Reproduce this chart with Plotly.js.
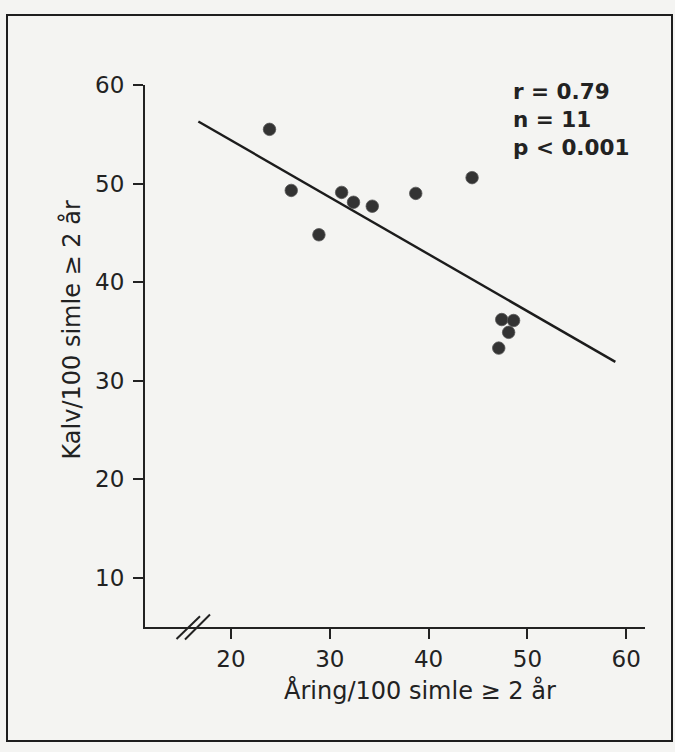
<!DOCTYPE html>
<html>
<head>
<meta charset="utf-8">
<script src="https://cdn.plot.ly/plotly-3.0.1.min.js"></script>
<style>html,body{margin:0;padding:0;background:#f4f4f2;}</style>
</head>
<body>
<div id="chart" style="width:675px;height:752px;"></div>
<script>
// Data
const aringX = [23.9, 26.1, 28.9, 31.2, 32.4, 34.3, 38.7, 44.4, 47.4, 48.6, 48.1, 47.1];
const kalvY  = [55.5, 49.3, 44.8, 49.1, 48.1, 47.7, 49.0, 50.6, 36.2, 36.1, 34.9, 33.3];
// Regression line end points
const fitX = [16.7, 58.9];
const fitY = [56.3, 31.9];
const xTicks = [20, 30, 40, 50, 60];
const yTicks = [10, 20, 30, 40, 50, 60];
const statsText = ["r = 0.79", "n = 11", "p < 0.001"];
const xTitle = "Åring/100 simle ≥ 2 år";
const yTitle = "Kalv/100 simle ≥ 2 år";

const ink = '#222222';
const fontFam = 'DejaVu Sans, Liberation Sans, sans-serif';

const traces = [
  {x: fitX, y: fitY, mode: 'lines', type: 'scatter',
   line: {color: '#1c1c1c', width: 2.4}, hoverinfo: 'skip', cliponaxis: false},
  {x: aringX, y: kalvY, mode: 'markers', type: 'scatter',
   marker: {size: 12.5, color: '#333333', line: {color: '#555555', width: 0.8}}}
];

const layout = {
  width: 675, height: 752,
  margin: {l: 145, r: 30, t: 85, b: 125},
  paper_bgcolor: '#f4f4f2', plot_bgcolor: '#f4f4f2',
  showlegend: false,
  font: {family: fontFam, color: ink, size: 23},
  xaxis: {
    range: [11.3, 61.9], tickvals: xTicks, ticktext: xTicks.map(String),
    showgrid: false, zeroline: false, showline: true, linecolor: ink, linewidth: 2,
    ticks: 'outside', ticklen: 10, tickwidth: 2, tickcolor: ink,
    tickfont: {family: fontFam, size: 23, color: ink}
  },
  yaxis: {
    range: [5, 60], tickvals: yTicks, ticktext: yTicks.map(String),
    showgrid: false, zeroline: false, showline: true, linecolor: ink, linewidth: 2,
    ticks: 'outside', ticklen: 10, tickwidth: 2, tickcolor: ink, ticklabelstandoff: 4,
    tickfont: {family: fontFam, size: 23, color: ink}
  },
  annotations: [
    {text: statsText.join('<br>'), xref: 'paper', yref: 'paper', x: 0.732, y: 1.014,
     xanchor: 'left', yanchor: 'top', align: 'left', showarrow: false,
     font: {family: fontFam, size: 21.5, color: ink, weight: 'bold'}},
    {text: xTitle, xref: 'paper', yref: 'paper', x: 0.55, y: -0.118,
     xanchor: 'center', yanchor: 'middle', showarrow: false,
     font: {family: fontFam, size: 24, color: ink}},
    {text: yTitle, xref: 'paper', yref: 'paper', x: -0.147, y: 0.548,
     xanchor: 'center', yanchor: 'middle', textangle: -90, showarrow: false,
     font: {family: fontFam, size: 24, color: ink}}
  ],
  shapes: [
    {type: 'rect', xref: 'paper', yref: 'paper', x0: -0.276, x1: 1.054, y0: -0.2103, y1: 1.129,
     line: {color: '#1e1e1e', width: 2}, fillcolor: 'rgba(0,0,0,0)', layer: 'below'},
    {type: 'line', xref: 'paper', yref: 'paper', x0: 0.063, y0: -0.022, x1: 0.110, y1: 0.020,
     line: {color: ink, width: 2}},
    {type: 'line', xref: 'paper', yref: 'paper', x0: 0.080, y0: -0.023, x1: 0.130, y1: 0.023,
     line: {color: ink, width: 2}}
  ]
};

Plotly.newPlot('chart', traces, layout, {displayModeBar: false, staticPlot: true});
</script>
</body>
</html>
